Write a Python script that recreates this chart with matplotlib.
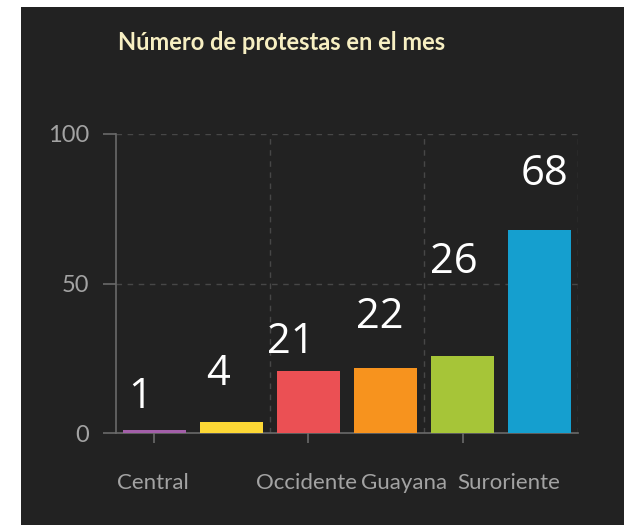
import matplotlib
matplotlib.use('agg')
import matplotlib.pyplot as plt
from matplotlib import font_manager
from matplotlib.patches import Rectangle

# data
regions = ['Central', '', 'Occidente', 'Guayana', '', 'Suroriente']
protests = [1, 4, 21, 22, 26, 68]
bar_colors = ['#a35fa9', '#fdd835', '#eb5054', '#f7931e', '#a6c538', '#159fcf']
title = 'Número de protestas en el mes'

# where the overlaid value labels and the crowded category labels sit
value_label_pos = [(0.31, 12.1), (1.33, 19.7), (2.27, 30.7),
                   (3.42, 38.9), (4.39, 57.2), (5.57, 86.7)]
region_label_x = [0.48, None, 2.47, 3.74, None, 5.10]

installed = {f.name for f in font_manager.fontManager.ttflist}
narrow = 'Liberation Sans Narrow' if 'Liberation Sans Narrow' in installed else 'Lato'

bg = '#222222'
axis_grey = '#6a6a6a'
label_grey = '#a3a3a3'

fig = plt.figure(figsize=(6.28, 5.25), dpi=100, facecolor='white')
fig.patches.append(Rectangle((21 / 628, 0), 603 / 628, 518 / 525,
                             transform=fig.transFigure, facecolor=bg,
                             edgecolor='none', zorder=-10))

ax = fig.add_axes([0.1847, 0.1743, 0.7357, 0.5705])
ax.set_facecolor(bg)
ax.set_xlim(0, 6)
ax.set_ylim(0, 100)

xs = [i + 0.5 for i in range(len(protests))]
ax.bar(xs, protests, width=0.82, color=bar_colors, zorder=3)

# grid
for y in (50, 100):
    ax.axhline(y, color='#474747', lw=1, ls=(0, (4, 4)), zorder=1)
for x in (2, 4, 6):
    ax.axvline(x, color='#474747', lw=1, ls=(0, (4, 4)), zorder=1)

for side in ('top', 'right'):
    ax.spines[side].set_visible(False)
for side in ('left', 'bottom'):
    ax.spines[side].set_color(axis_grey)
    ax.spines[side].set_linewidth(1.2)

ax.set_yticks([0, 50, 100])
ax.tick_params(axis='y', colors=axis_grey, length=9.5, width=1.2, pad=10,
               labelcolor=label_grey, labelsize=17)
for lbl in ax.get_yticklabels():
    lbl.set_fontfamily(narrow)

ax.set_xticks([0.5, 2.5, 4.5])
ax.set_xticklabels([])
ax.tick_params(axis='x', colors=axis_grey, length=7, width=1.2)

for name, x in zip(regions, region_label_x):
    if x is None:
        continue
    ax.text(x, -16.5, name, ha='center', va='center', color=label_grey,
            fontsize=16, family=narrow, clip_on=False)

for v, (x, y) in zip(protests, value_label_pos):
    ax.text(x, y, str(v), ha='center', va='center', color='white',
            fontsize=30, family='Open Sans', zorder=4)

fig.text(282 / 628, 1 - 42 / 525, title, ha='center', va='center',
         color='#f7efc2', fontsize=17, family=narrow, fontweight='bold')

fig.savefig('out.png', dpi=100, facecolor=fig.get_facecolor())
